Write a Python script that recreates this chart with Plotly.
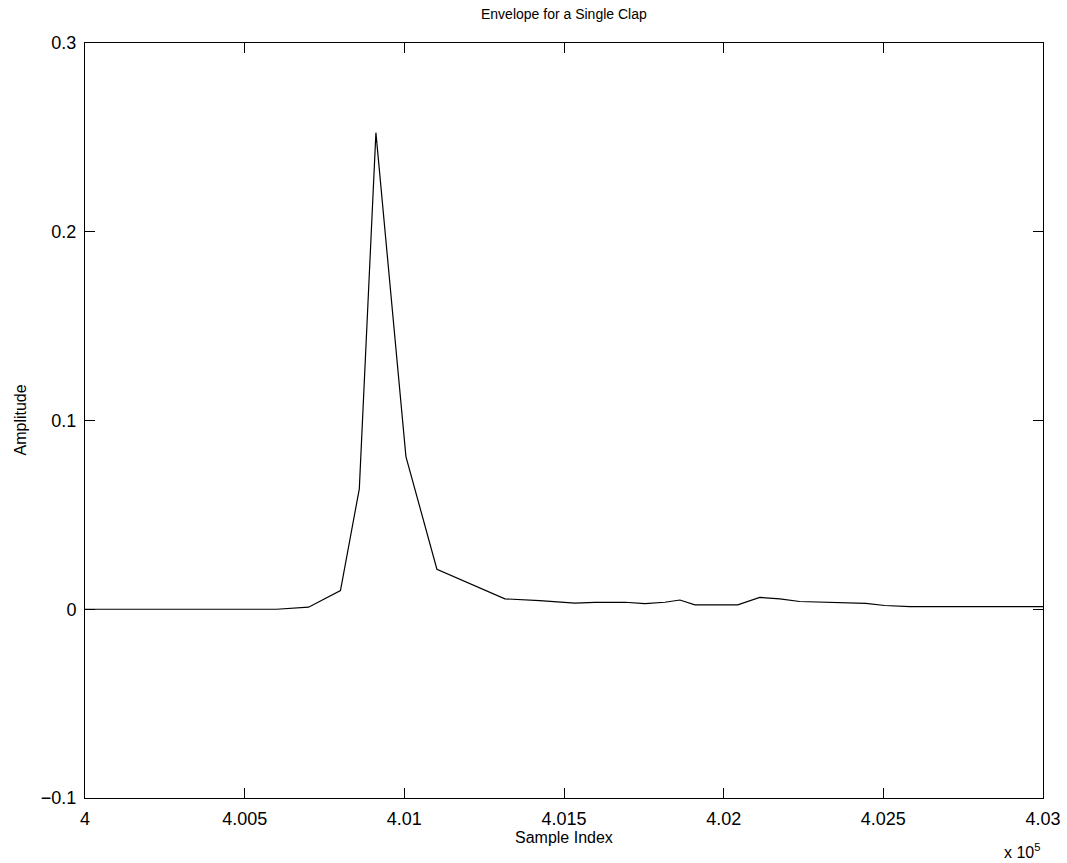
import plotly.graph_objects as go

# Sample index values (x) and envelope amplitude (y)
sample_index = [400000, 400600, 400700, 400800, 400859, 400911, 401005, 401102,
                401315, 401424, 401534, 401597, 401691, 401753, 401816, 401863,
                401910, 402044, 402113, 402176, 402238, 402326, 402445, 402504,
                402583, 403000]
amplitude = [0.0, 0.0, 0.0011, 0.0099, 0.0638, 0.2525, 0.0809, 0.0212,
             0.0055, 0.0046, 0.0032, 0.0036, 0.0037, 0.0030, 0.0037, 0.0049,
             0.0023, 0.0023, 0.0063, 0.0055, 0.0041, 0.0036, 0.0031, 0.0020,
             0.0014, 0.0014]

x_tick_vals = [400000, 400500, 401000, 401500, 402000, 402500, 403000]
x_tick_text = ["4", "4.005", "4.01", "4.015", "4.02", "4.025", "4.03"]
y_tick_vals = [-0.1, 0, 0.1, 0.2, 0.3]
y_tick_text = ["\u22120.1", "0", "0.1", "0.2", "0.3"]

FONT = "Liberation Sans, Arial, Helvetica, sans-serif"
TICK_SIZE = 18
LABEL_SIZE = 16

fig = go.Figure()
fig.add_trace(go.Scatter(x=sample_index, y=amplitude, mode="lines",
                         line=dict(color="black", width=1.2),
                         hoverinfo="x+y", showlegend=False))

axis_common = dict(showline=True, linecolor="black", linewidth=1,
                   mirror="ticks", ticks="inside", ticklen=10, tickcolor="black",
                   tickwidth=1, showgrid=False, zeroline=False, automargin=False,
                   tickfont=dict(family=FONT, size=TICK_SIZE, color="black"))

fig.update_xaxes(range=[400000, 403000], tickvals=x_tick_vals, ticktext=x_tick_text,
                 ticklabelstandoff=4, **axis_common)
fig.update_yaxes(range=[-0.1, 0.3], tickvals=y_tick_vals, ticktext=y_tick_text,
                 ticklabelstandoff=4, **axis_common)

fig.update_layout(
    width=1067, height=863,
    margin=dict(l=85, r=24, t=43, b=65),
    paper_bgcolor="white", plot_bgcolor="white",
    font=dict(family=FONT, color="black"),
    annotations=[
        dict(text="Envelope for a Single Clap", xref="paper", yref="paper",
             x=0.5, y=(798 - 14) / 755, xanchor="center", yanchor="middle",
             showarrow=False, font=dict(family=FONT, size=14, color="black")),
        dict(text="Sample Index", xref="paper", yref="paper",
             x=0.5, y=(798 - 837) / 755, xanchor="center", yanchor="middle",
             showarrow=False, font=dict(family=FONT, size=LABEL_SIZE, color="black")),
        dict(text="Amplitude", xref="paper", yref="paper", textangle=-90,
             x=(20 - 85) / 958, y=0.5, xanchor="center", yanchor="middle",
             showarrow=False, font=dict(family=FONT, size=LABEL_SIZE, color="black")),
        dict(text="x 10<sup>5</sup>", xref="paper", yref="paper",
             x=(1042 - 85) / 958, y=(798 - 851) / 755, xanchor="right", yanchor="middle",
             showarrow=False, font=dict(family=FONT, size=LABEL_SIZE, color="black")),
    ]
)

fig.write_html("out.html")
